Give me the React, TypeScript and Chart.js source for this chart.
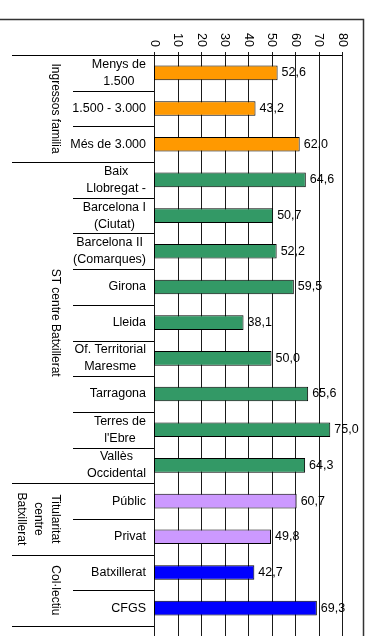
import React, { useEffect, useRef } from "react";
import { Chart, registerables } from "chart.js";

Chart.register(...registerables);

const categoryLabels: string[][] = [
  ["Menys de", "1.500"],
  ["1.500 - 3.000"],
  ["Més de 3.000"],
  ["Baix", "Llobregat -"],
  ["Barcelona I", "(Ciutat)"],
  ["Barcelona II", "(Comarques)"],
  ["Girona"],
  ["Lleida"],
  ["Of. Territorial", "Maresme"],
  ["Tarragona"],
  ["Terres de", "l'Ebre"],
  ["Vallès", "Occidental"],
  ["Públic"],
  ["Privat"],
  ["Batxillerat"],
  ["CFGS"],
];

const values: number[] = [52.6, 43.2, 62.0, 64.6, 50.7, 52.2, 59.5, 38.1, 50.0, 65.6, 75.0, 64.3, 60.7, 49.8, 42.7, 69.3];

const barColors: string[] = [
  "#FF9900", "#FF9900", "#FF9900",
  "#339966", "#339966", "#339966", "#339966", "#339966", "#339966", "#339966", "#339966", "#339966",
  "#CC99FF", "#CC99FF",
  "#0000FF", "#0000FF",
];

const groupLabels: string[][] = [
  ["Ingressos familia"],
  ["ST centre Batxillerat"],
  ["Titularitat", "centre", "Batxillerat"],
  ["Col·lectiu"],
];
const groupStarts: number[] = [0, 3, 12, 14];
const groupEnds: number[] = [2, 11, 13, 15];

const xTicks: number[] = [0, 10, 20, 30, 40, 50, 60, 70, 80];

const FONT = '12.5px "Liberation Sans", Arial, sans-serif';
const FONT_V = '12px "Liberation Sans", Arial, sans-serif';

export default function App() {
  const ref = useRef<HTMLCanvasElement | null>(null);

  useEffect(() => {
    document.body.style.margin = "0";
    const canvas = ref.current;
    if (!canvas) return;

    const decor = {
      id: "decor",
      beforeDatasetsDraw(chart: any) {
        const ctx = chart.ctx;
        const xs = chart.scales.x;
        const area = chart.chartArea;
        ctx.save();
        ctx.strokeStyle = "#1a1a1a";
        ctx.lineWidth = 1;
        for (const t of xTicks) {
          const x = Math.round(xs.getPixelForValue(t)) + 0.5;
          ctx.beginPath();
          ctx.moveTo(x, area.top - 3);
          ctx.lineTo(x, 636);
          ctx.stroke();
        }
        ctx.restore();
      },
      afterDatasetsDraw(chart: any) {
        const ctx = chart.ctx;
        const xs = chart.scales.x;
        const ys = chart.scales.y;
        const area = chart.chartArea;
        const n = categoryLabels.length;
        const rowH = (area.bottom - area.top) / n;
        ctx.save();
        ctx.font = FONT;
        ctx.fillStyle = "#000";

        // value labels
        ctx.textAlign = "left";
        ctx.textBaseline = "middle";
        values.forEach((v, i) => {
          const x = xs.getPixelForValue(v);
          const y = ys.getPixelForValue(i);
          ctx.fillText(v.toFixed(1).replace(".", ","), x + 4, y);
        });

        // x tick labels rotated clockwise
        for (const t of xTicks) {
          const x = xs.getPixelForValue(t);
          ctx.save();
          ctx.translate(x, area.top - 8);
          ctx.rotate(Math.PI / 2);
          ctx.textAlign = "right";
          ctx.textBaseline = "middle";
          ctx.fillText(String(t), 0, 0);
          ctx.restore();
        }

        // category labels
        const lineH = 17;
        categoryLabels.forEach((lines, i) => {
          const cy = ys.getPixelForValue(i);
          const maxW = Math.max(...lines.map((l) => ctx.measureText(l).width));
          const cx = area.left - 8 - maxW / 2;
          ctx.textAlign = "center";
          ctx.textBaseline = "middle";
          lines.forEach((l, k) => {
            const y = cy + (k - (lines.length - 1) / 2) * lineH;
            ctx.fillText(l, cx, y);
          });
        });

        // separators
        ctx.strokeStyle = "#000";
        ctx.lineWidth = 1;
        const groupStartSet = new Set(groupStarts);
        for (let i = 0; i <= n; i++) {
          const y = Math.round(area.top + rowH * i) + 0.5;
          const isGroup = i === n || groupStartSet.has(i);
          ctx.beginPath();
          ctx.moveTo(isGroup ? 12 : 73, y);
          ctx.lineTo(i === 0 ? area.right : area.left, y);
          ctx.stroke();
        }

        // group labels rotated clockwise
        ctx.font = FONT_V;
        groupLabels.forEach((lines, g) => {
          const y0 = area.top + rowH * groupStarts[g];
          const y1 = area.top + rowH * (groupEnds[g] + 1);
          const cy = (y0 + y1) / 2;
          lines.forEach((l, k) => {
            ctx.save();
            ctx.translate(55 - k * 17, cy);
            ctx.rotate(Math.PI / 2);
            ctx.textAlign = "center";
            ctx.textBaseline = "middle";
            ctx.fillText(l, 0, 0);
            ctx.restore();
          });
        });

        // outer border
        ctx.strokeStyle = "#333";
        ctx.lineWidth = 1.5;
        ctx.beginPath();
        ctx.moveTo(0, 19.5);
        ctx.lineTo(363.5, 19.5);
        ctx.lineTo(363.5, 636);
        ctx.stroke();
        ctx.restore();
      },
    };

    const chart = new Chart(canvas, {
      type: "bar",
      data: {
        labels: categoryLabels.map((l) => l.join(" ")),
        datasets: [
          {
            data: values,
            backgroundColor: barColors,
            borderColor: "#000",
            borderWidth: 1,
            borderSkipped: false,
            barPercentage: 0.41,
            categoryPercentage: 1,
          },
        ],
      },
      options: {
        indexAxis: "y",
        responsive: false,
        animation: false,
        devicePixelRatio: 1,
        layout: { padding: { left: 154, right: 32, top: 55, bottom: 10 } },
        plugins: { legend: { display: false }, tooltip: { enabled: false } },
        scales: {
          x: { type: "linear", min: 0, max: 80, display: false },
          y: { type: "category", display: false },
        },
      },
      plugins: [decor],
    } as any);

    return () => chart.destroy();
  }, []);

  return (
    <div style={{ position: "fixed", left: 0, top: 0, width: 374, height: 636 }}>
      <canvas ref={ref} width={374} height={636} style={{ width: 374, height: 636, display: "block" }} />
    </div>
  );
}
